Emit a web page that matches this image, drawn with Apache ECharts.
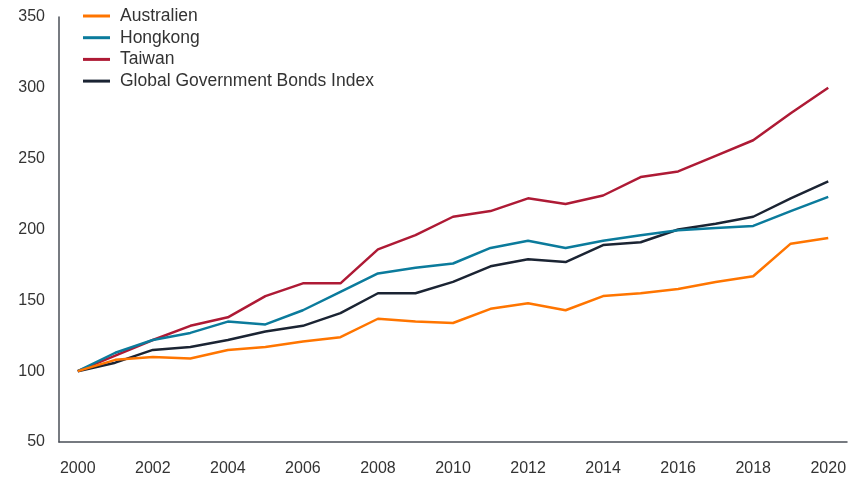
<!DOCTYPE html>
<html>
<head>
<meta charset="utf-8">
<script src="https://cdn.jsdelivr.net/npm/echarts@6/dist/echarts.min.js"></script>
<style>
  html, body { margin: 0; padding: 0; background: #fff; }
  #chart { width: 863px; height: 479px; }
</style>
</head>
<body>
<div id="chart"></div>
<script>
var years = [];
for (var y = 2000; y <= 2020; y++) years.push(String(y));

var australien = [100, 108, 110, 109, 115, 117, 121, 124, 137, 135, 134, 144, 148, 143, 153, 155, 158, 163, 167, 190, 194];
var hongkong   = [100, 113, 122, 127, 135, 133, 143, 156, 169, 173, 176, 187, 192, 187, 192, 196, 199.5, 201, 202.5, 213, 223];
var taiwan     = [100, 111, 122, 132, 138, 153, 162, 162, 186, 196, 209, 213, 222, 218, 224, 237, 241, 252, 263, 282, 300];
var global     = [100, 106, 115, 117, 122, 128, 132, 141, 155, 155, 163, 174, 179, 177, 189, 191, 200, 204, 209, 222, 234];

var seriesNames = ['Australien', 'Hongkong', 'Taiwan', 'Global Government Bonds Index'];
var seriesColors = ['#ff7500', '#0b7b9c', '#ae1a35', '#1b2433'];
var seriesData = [australien, hongkong, taiwan, global];

var font = 'Liberation Sans, Arial, sans-serif';

var myChart = echarts.init(document.getElementById('chart'));

var series = [];
for (var i = 0; i < seriesNames.length; i++) {
    series.push({
        name: seriesNames[i],
        type: 'line',
        data: seriesData[i],
        symbol: 'none',
        lineStyle: { color: seriesColors[i], width: 2.5 },
        itemStyle: { color: seriesColors[i] }
    });
}
// draw the index line above the country lines, like in the source
series.reverse();

var option = {
    animation: false,
    backgroundColor: '#fff',
    legend: {
        orient: 'vertical',
        left: 78,
        top: 2,
        icon: 'rect',
        itemWidth: 27,
        itemHeight: 3,
        itemGap: 3.7,
        data: seriesNames,
        textStyle: {
            fontFamily: font,
            fontSize: 17.5,
            color: '#333',
            lineHeight: 17,
            padding: [0, 0, 0, 5]
        }
    },
    grid: {
        left: 59,
        right: 16,
        top: 17,
        bottom: 37,
        containLabel: false
    },
    xAxis: {
        type: 'category',
        data: years,
        boundaryGap: true,
        axisTick: { show: false },
        axisLine: { lineStyle: { color: '#4a4f57', width: 1.5 } },
        axisLabel: {
            interval: 1,
            margin: 19,
            fontFamily: font,
            fontSize: 16,
            color: '#333'
        },
        splitLine: { show: false }
    },
    yAxis: {
        type: 'value',
        min: 50,
        max: 350,
        interval: 50,
        axisTick: { show: false },
        axisLine: { show: true, lineStyle: { color: '#4a4f57', width: 1.5 } },
        axisLabel: {
            margin: 14,
            fontFamily: font,
            fontSize: 16,
            color: '#333'
        },
        splitLine: { show: false }
    },
    series: series
};

myChart.setOption(option);
</script>
</body>
</html>
